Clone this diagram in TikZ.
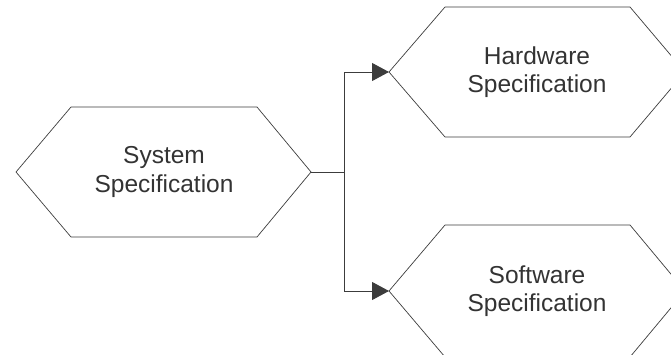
\documentclass[tikz,border=0pt]{standalone}
\usepackage{fontspec}
\setmainfont{Liberation Sans}
\usetikzlibrary{arrows.meta}
\definecolor{linegray}{HTML}{3C3C3C}
\definecolor{textgray}{HTML}{333333}
\tikzset{
  label text/.style={align=center, text=textgray, font=\fontsize{24.5}{28.5}\selectfont, inner sep=0pt},
  hexa/.style={draw=linegray, line width=0.7pt, line join=miter},
  conn/.style={draw=linegray, line width=0.9pt},
  tip/.style={-{Triangle[length=17pt,width=18pt]}},
}
\begin{document}
\begin{tikzpicture}[x=1pt, y=-1pt]
  \useasboundingbox (0,0) rectangle (671,355);
  \begin{scope}
    \clip (0,0) rectangle (671,355);
    % source process
    \node[label text] (sys) at (164,172) {System\\Specification};
    \draw[hexa, shift={(sys.center)}]
      (-148,0) coordinate (sysL) -- (-93,-65) -- (93,-65)
      -- (147,0) coordinate (sysR) -- (93,65) -- (-93,65) -- cycle;
    % hardware branch
    \node[label text] (hw) at (537,72) {Hardware\\Specification};
    \draw[hexa, shift={(hw.center)}]
      (-148,0) coordinate (hwL) -- (-92,-65) -- (93,-65)
      -- (148,0) -- (93,65) -- (-92,65) -- cycle;
    % software branch
    \node[label text] (sw) at (537,291) {Software\\Specification};
    \draw[hexa, shift={(sw.center)}]
      (-148,0) coordinate (swL) -- (-92,-66) -- (93,-66)
      -- (148,0) -- (93,66) -- (-92,66) -- cycle;
  \end{scope}
  % connectors
  \draw[conn] (sysR) -- ++(33,0) coordinate (split);
  \draw[conn, tip] (split) |- (hwL);
  \draw[conn, tip] (split) |- (swL);
\end{tikzpicture}
\end{document}
